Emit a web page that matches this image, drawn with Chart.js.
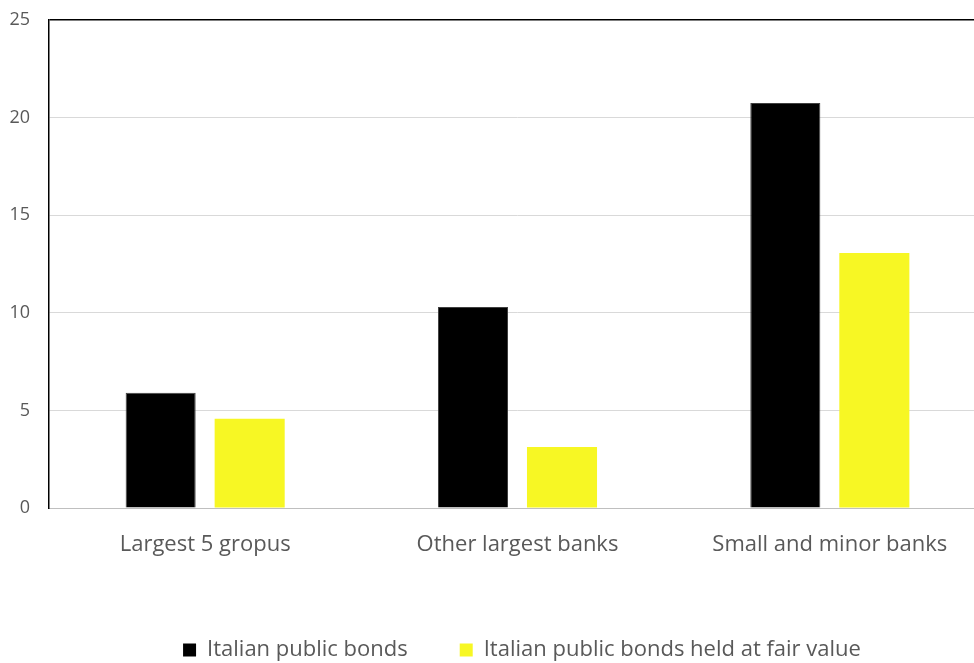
<!DOCTYPE html>
<html>
<head>
<meta charset="utf-8">
<script src="https://cdn.jsdelivr.net/npm/chart.js@4"></script>
<style>
    html, body { margin: 0; padding: 0; background: #fff; overflow: hidden; }
    /* plot area runs past the right edge, as in the cropped original */
    #wrap { width: 987px; height: 663px; }
</style>
</head>
<body>
<div id="wrap"><canvas id="chart"></canvas></div>
<script>
const categories = ['Largest 5 gropus', 'Other largest banks', 'Small and minor banks'];
const publicBonds = [5.9, 10.3, 20.75];
const fairValueBonds = [4.57, 3.12, 13.06];
const yTicks = [0, 5, 10, 15, 20, 25];

const FONT = "'Open Sans', sans-serif";
const TEXT = '#595959';

// legend sits a bit right of centre in the original
const legendShift = {
    id: 'legendShift',
    afterLayout(chart) {
        chart.legend.left += 29;
        chart.legend.right += 29;
    }
};

new Chart(document.getElementById('chart'), {
    type: 'bar',
    data: {
        labels: categories,
        datasets: [{
            label: 'Italian public bonds',
            data: publicBonds,
            backgroundColor: '#000000',
            borderColor: '#404040',
            borderWidth: 1
        }, {
            label: 'Italian public bonds held at fair value',
            data: fairValueBonds,
            backgroundColor: '#f7f724',
            borderWidth: 0
        }]
    },
    options: {
        responsive: true,
        maintainAspectRatio: false,
        animation: false,
        layout: { padding: { top: 0, left: 0, right: 1, bottom: -8 } },
        datasets: {
            bar: { categoryPercentage: 0.57, barPercentage: 0.787 }
        },
        plugins: {
            tooltip: { enabled: false },
            legend: {
                position: 'bottom',
                labels: {
                    color: TEXT,
                    font: { family: FONT, size: 22 },
                    boxWidth: 13,
                    boxHeight: 13,
                    padding: 52,
                    generateLabels: chart => Chart.defaults.plugins.legend.labels.generateLabels(chart).map(l => ({ ...l, lineWidth: 0 }))
                }
            }
        },
        scales: {
            x: {
                grid: { display: false, drawTicks: false },
                border: { display: true, color: '#bfbfbf', width: 1 },
                ticks: {
                    color: TEXT,
                    font: { family: FONT, size: 22 },
                    padding: 24,
                    maxRotation: 0
                },
                afterFit: axis => { axis.height = 79; }
            },
            y: {
                min: 0,
                max: 25,
                afterBuildTicks: axis => { axis.ticks = yTicks.map(v => ({ value: v })); },
                afterFit: axis => {
                    axis.width = 49;
                    axis.paddingTop = 20;
                },
                grid: {
                    drawTicks: false,
                    color: ctx => ctx.tick && ctx.tick.value === 25 ? '#000000' : '#d9d9d9',
                    lineWidth: ctx => ctx.tick && ctx.tick.value === 25 ? 1.5 : 1
                },
                border: { display: true, color: '#000000', width: 1.5 },
                ticks: {
                    color: TEXT,
                    font: { family: FONT, size: 18 },
                    padding: 19
                }
            }
        }
    },
    plugins: [legendShift]
});
</script>
</body>
</html>
